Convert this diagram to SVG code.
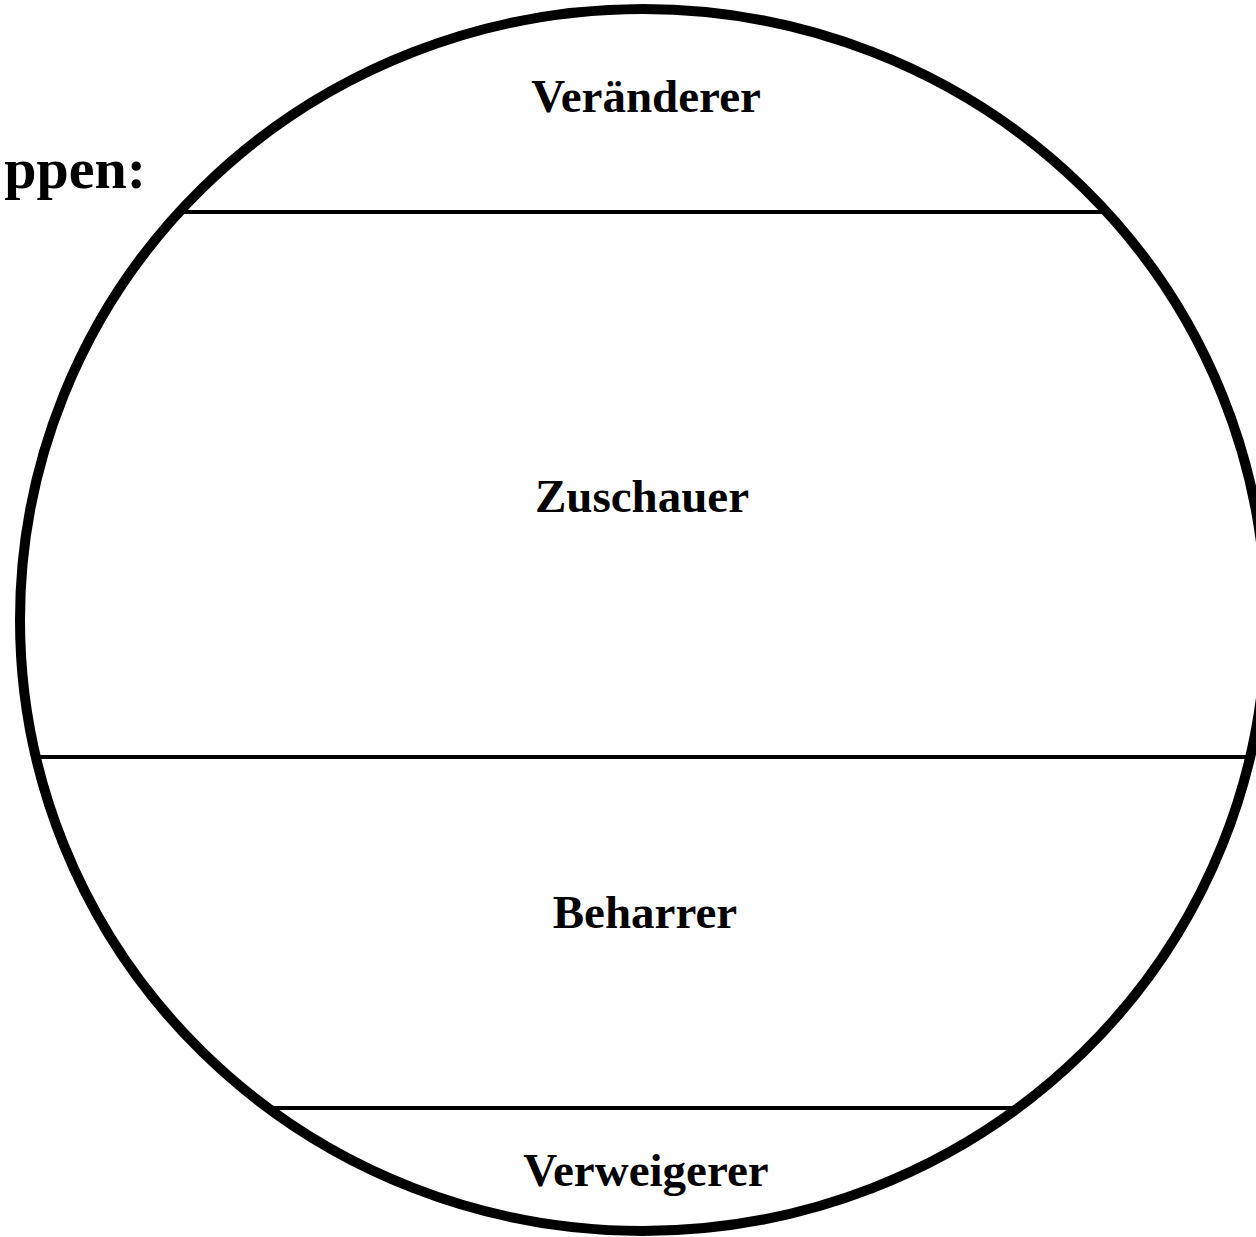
<svg xmlns="http://www.w3.org/2000/svg" width="1256" height="1237" viewBox="0 0 1256 1237">
<style>
.lbl{font-family:"Liberation Serif","Times New Roman",serif;font-weight:bold;font-size:47px;text-anchor:middle;fill:#000}
.div{stroke:#000;stroke-width:4;fill:none}
</style>
<rect width="1256" height="1237" fill="#fff"/>
<text x="146" y="188" style="font-family:'Liberation Serif','Times New Roman',serif;font-weight:bold;font-size:58px;text-anchor:end">ppen:</text>
<g id="connectors">
<line class="div" x1="180" y1="212" x2="1106" y2="212"/>
<line class="div" x1="37" y1="757" x2="1249" y2="757"/>
<line class="div" x1="269" y1="1108" x2="1017" y2="1108"/>
</g>
<g id="circle">
<ellipse cx="643" cy="620" rx="623" ry="611" fill="none" stroke="#000" stroke-width="10"/>
</g>
<g id="veraenderer"><text class="lbl" x="646" y="112">Veränderer</text></g>
<g id="zuschauer"><text class="lbl" x="642" y="512">Zuschauer</text></g>
<g id="beharrer"><text class="lbl" x="645" y="928">Beharrer</text></g>
<g id="verweigerer"><text class="lbl" x="646" y="1186">Verweigerer</text></g>
</svg>
